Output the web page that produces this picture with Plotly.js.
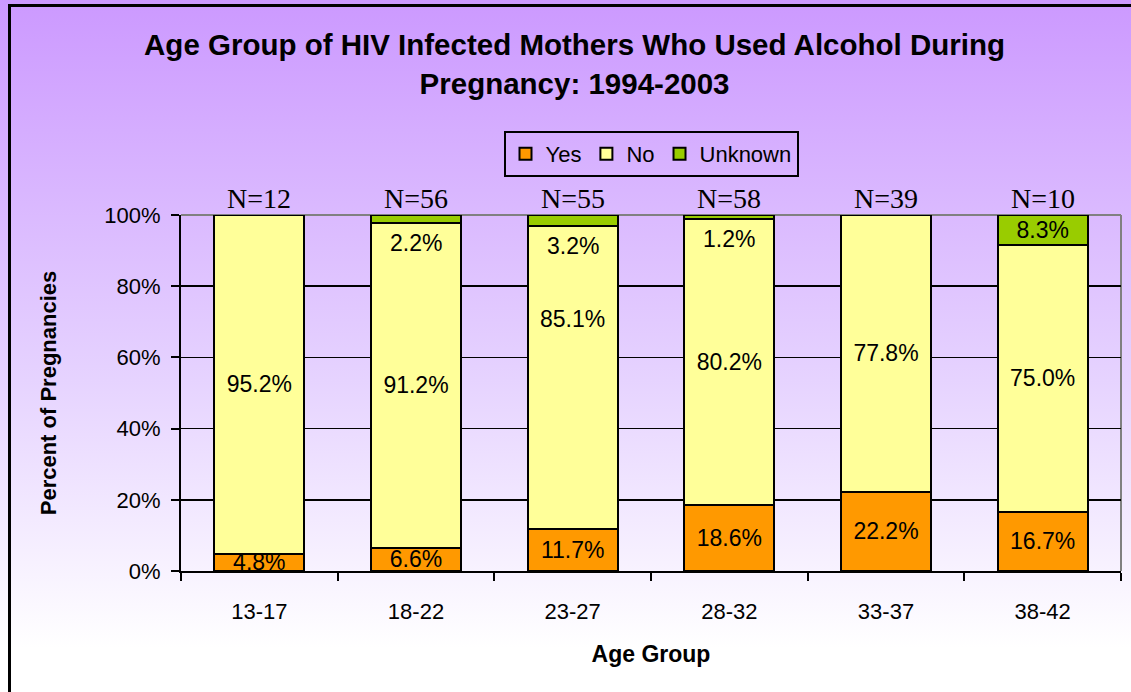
<!DOCTYPE html>
<html>
<head>
<meta charset="utf-8">
<script src="https://cdn.plot.ly/plotly-3.0.1.min.js"></script>
<style>
  html, body { margin: 0; padding: 0; }
  body { width: 1131px; height: 692px; overflow: hidden;
         background: linear-gradient(to bottom, #CC99FF 0px, #E6D3FF 380px, #FFFFFF 648px, #FFFFFF 692px); }
  #frame { position: absolute; left: 8px; top: 4px; width: 1200px; height: 800px;
           border-left: 3px solid #000; border-top: 3px solid #000; pointer-events: none; }
  #chart { position: absolute; left: 0; top: 0; width: 1131px; height: 692px; }
</style>
</head>
<body>
<div id="chart"></div>
<div id="frame"></div>
<script>
// ---- data ----
const ageGroups = ["13-17", "18-22", "23-27", "28-32", "33-37", "38-42"];
const nCounts   = [12, 56, 55, 58, 39, 10];
const yesPct     = [4.8, 6.6, 11.7, 18.6, 22.2, 16.7];
const noPct      = [95.2, 91.2, 85.1, 80.2, 77.8, 75.0];
const unknownPct = [0, 2.2, 3.2, 1.2, 0, 8.3];
const yTickVals  = [0, 20, 40, 60, 80, 100];
const yTickText  = ["0%", "20%", "40%", "60%", "80%", "100%"];

const fmt = v => v.toFixed(1) + "%";
const labelFont = { family: "Arial, 'Liberation Sans', sans-serif", size: 23, color: "#000" };
const barLine = { color: "#000", width: 2 };

// No-label for 23-27 was moved upward in the original chart
const noLabelMoved = { "23-27": 70.8 };

const traces = [
  { type: "bar", name: "Yes", x: ageGroups, y: yesPct,
    marker: { color: "#FF9900", line: barLine },
    text: yesPct.map(fmt), textposition: "inside", insidetextanchor: "middle",
    textfont: labelFont, constraintext: "none", cliponaxis: false, hoverinfo: "skip" },
  { type: "bar", name: "No", x: ageGroups, y: noPct,
    marker: { color: "#FFFF99", line: barLine },
    text: noPct.map((v, i) => noLabelMoved[ageGroups[i]] !== undefined ? "" : fmt(v)),
    textposition: "inside", insidetextanchor: "middle",
    textfont: labelFont, constraintext: "none", hoverinfo: "skip" },
  { type: "bar", name: "Unknown", x: ageGroups, y: unknownPct,
    marker: { color: "#99CC00", line: barLine },
    text: unknownPct.map(v => v >= 5 ? fmt(v) : ""),
    textposition: "inside", insidetextanchor: "middle",
    textfont: labelFont, constraintext: "none", hoverinfo: "skip" }
];

const annotations = [];
// N labels above bars
ageGroups.forEach((g, i) => {
  annotations.push({ x: g, y: 100, xref: "x", yref: "y", text: "N=" + nCounts[i],
    showarrow: false, yanchor: "bottom", yshift: -1,
    font: { family: "'Times New Roman', 'Liberation Serif', serif", size: 28, color: "#000" } });
});
// small Unknown labels placed just under the green segment
ageGroups.forEach((g, i) => {
  const u = unknownPct[i];
  if (u > 0 && u < 5) {
    annotations.push({ x: g, y: yesPct[i] + noPct[i], xref: "x", yref: "y", text: fmt(u),
      showarrow: false, yanchor: "top", yshift: -5, font: labelFont });
  }
});
// moved No label
ageGroups.forEach((g, i) => {
  if (noLabelMoved[g] !== undefined) {
    annotations.push({ x: g, y: noLabelMoved[g], xref: "x", yref: "y", text: fmt(noPct[i]),
      showarrow: false, yanchor: "middle", font: labelFont });
  }
});

const layout = {
  width: 1131, height: 692,
  paper_bgcolor: "rgba(0,0,0,0)", plot_bgcolor: "rgba(0,0,0,0)",
  margin: { l: 181, r: 10, t: 215, b: 121 },
  barmode: "stack", bargap: 0.425,
  font: { family: "Arial, 'Liberation Sans', sans-serif", color: "#000" },
  title: { text: "<b>Age Group of HIV Infected Mothers Who Used Alcohol During<br>Pregnancy: 1994-2003</b>",
    x: 0.508, xanchor: "center", y: 0.92, yanchor: "middle",
    font: { family: "Arial, 'Liberation Sans', sans-serif", size: 29.5, color: "#000" } },
  showlegend: true,
  legend: { orientation: "h", x: 0.5, xanchor: "center", y: 1.236, yanchor: "top",
    bgcolor: "rgba(0,0,0,0)", bordercolor: "#000", borderwidth: 2,
    font: { size: 22, color: "#000" }, traceorder: "normal", itemwidth: 30 },
  xaxis: {
    type: "category", showgrid: false, zeroline: false,
    showline: true, linecolor: "#000", linewidth: 2,
    ticks: "outside", tickson: "boundaries", ticklen: 8, tickwidth: 2, tickcolor: "#000",
    tickfont: { size: 22, color: "#000" }, ticklabelstandoff: 20,
    title: { text: "<b>Age Group</b>", font: { size: 23, color: "#000" }, standoff: 22 }
  },
  yaxis: {
    range: [0, 100], tickvals: yTickVals, ticktext: yTickText,
    showgrid: true, gridcolor: "#000", gridwidth: 1.5, zeroline: false,
    showline: true, linecolor: "#000", linewidth: 2,
    ticks: "outside", ticklen: 8, tickwidth: 2, tickcolor: "#000",
    tickfont: { size: 22, color: "#000" }, ticklabelstandoff: 6,
    title: { text: "<b>Percent of Pregnancies</b>", font: { size: 22, color: "#000" }, standoff: 42 }
  },
  shapes: [
    { type: "line", xref: "paper", yref: "paper", x0: 0, x1: 1, y0: 1, y1: 1,
      line: { color: "#808080", width: 2 }, layer: "between" },
    { type: "line", xref: "paper", yref: "paper", x0: 1, x1: 1, y0: 0, y1: 1,
      line: { color: "#808080", width: 2 }, layer: "between" }
  ],
  annotations: annotations
};

Plotly.newPlot("chart", traces, layout, { displayModeBar: false, staticPlot: true });
</script>
</body>
</html>
